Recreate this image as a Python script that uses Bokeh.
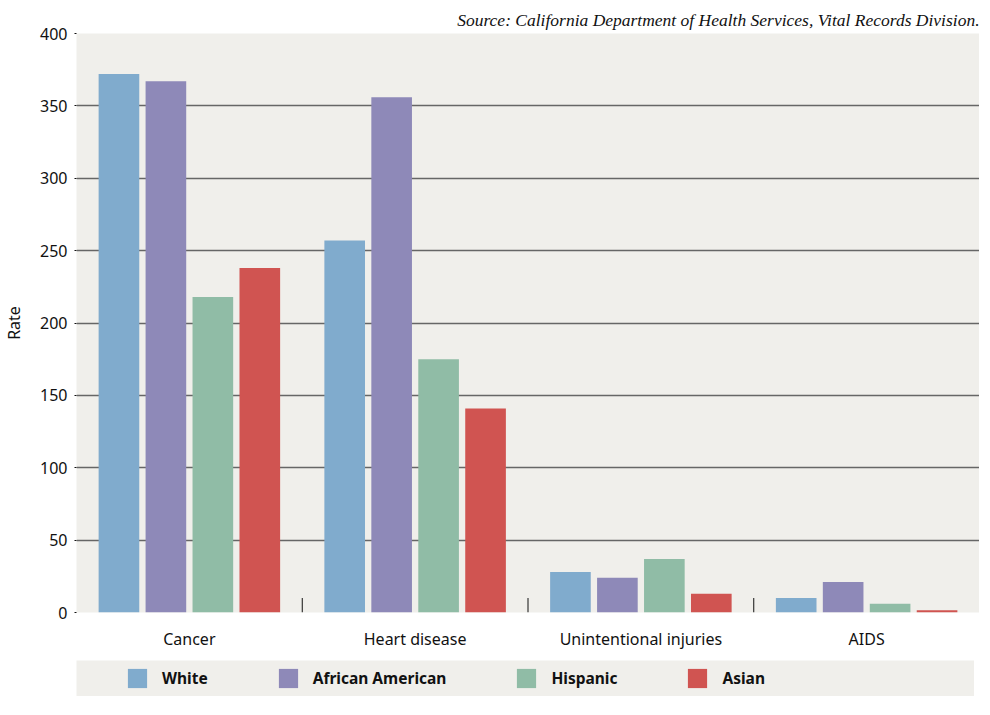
from bokeh.plotting import figure
from bokeh.models import FactorRange, Range1d, FixedTicker, Legend, LegendItem, ColumnDataSource, Title
from bokeh.transform import dodge
from bokeh.layouts import column
from bokeh.embed import file_html
from bokeh.resources import INLINE

causes = ["Cancer", "Heart disease", "Unintentional injuries", "AIDS"]
groups = ["White", "African American", "Hispanic", "Asian"]
white = [372, 257, 28, 10]
african_american = [367, 356, 24, 21]
hispanic = [218, 175, 37, 6]
asian = [238, 141, 13, 1.5]
y_ticks = [0, 50, 100, 150, 200, 250, 300, 350, 400]
grid_ticks = [50, 100, 150, 200, 250, 300, 350]
source_note = "Source: California Department of Health Services, Vital Records Division."
y_label = "Rate"

colors = ["#80abcd", "#8e89b8", "#90bca6", "#d05451"]
offsets = [-0.312, -0.104, 0.104, 0.312]
keys = ["white", "aa", "hisp", "asian"]
BG = "#f0efeb"
TXT = "#111111"
FONT = "Noto Sans"

src = ColumnDataSource(dict(cause=causes, white=white, aa=african_american,
                            hisp=hispanic, asian=asian))
sep_src = ColumnDataSource(dict(cause=causes[:-1]))

p = figure(frame_width=903, frame_height=579, x_range=FactorRange(*causes, range_padding=0),
           y_range=Range1d(0, 400), output_backend="svg", toolbar_location=None,
           min_border_left=71, min_border_right=0, min_border_top=33, min_border_bottom=45)
p.title = Title(text=source_note, align="right", text_font="Liberation Serif",
                text_font_style="italic", text_font_size="17.5px", text_color=TXT,
                offset=0, standoff=8)
p.background_fill_color = BG
p.border_fill_color = "white"
p.outline_line_color = None

for k, c, o in zip(keys, colors, offsets):
    p.vbar(x=dodge("cause", o, range=p.x_range), top=k, width=0.18, source=src,
           fill_color=c, line_color=None)

p.segment(x0=dodge("cause", 0.5, range=p.x_range), x1=dodge("cause", 0.5, range=p.x_range),
          y0=0, y1=10, source=sep_src, line_color=TXT, line_width=1)

p.xgrid.grid_line_color = None
p.ygrid.ticker = FixedTicker(ticks=grid_ticks)
p.ygrid.grid_line_color = "#666666"
p.ygrid.grid_line_width = 1.5

p.yaxis.ticker = FixedTicker(ticks=y_ticks)
p.yaxis.axis_line_color = None
p.yaxis.major_tick_line_color = TXT
p.yaxis.major_tick_out = 2
p.yaxis.major_tick_in = 0
p.yaxis.minor_tick_line_color = None
p.yaxis.major_label_standoff = 7
p.yaxis.major_label_text_font = FONT
p.yaxis.major_label_text_font_size = "16px"
p.yaxis.major_label_text_color = TXT
p.yaxis.axis_label = y_label
p.yaxis.axis_label_text_font = FONT
p.yaxis.axis_label_text_font_size = "16px"
p.yaxis.axis_label_text_font_style = "normal"
p.yaxis.axis_label_text_color = TXT
p.yaxis.axis_label_standoff = 12

p.xaxis.axis_line_color = None
p.xaxis.major_tick_line_color = None
p.xaxis.major_label_standoff = 9
p.xaxis.major_label_text_font = FONT
p.xaxis.major_label_text_font_size = "16px"
p.xaxis.major_label_text_color = TXT

# legend strip
q = figure(width=974, height=39, x_range=FactorRange(*causes, range_padding=0),
           y_range=Range1d(1000, 1001), output_backend="svg", toolbar_location=None,
           min_border_left=71, min_border_right=0, min_border_top=3, min_border_bottom=0,
           x_axis_location=None, y_axis_location=None)
q.background_fill_color = BG
q.border_fill_color = "white"
q.outline_line_color = None
q.grid.grid_line_color = None
items = []
for g, k, c, o in zip(groups, keys, colors, offsets):
    r = q.vbar(x=dodge("cause", o, range=q.x_range), top=k, width=0.18, source=src,
               fill_color=c, line_color=None)
    items.append(LegendItem(label=g, renderers=[r]))
leg = Legend(items=items, orientation="horizontal", location=(49, 6),
             glyph_width=24, glyph_height=24, label_standoff=13, spacing=68,
             padding=0, margin=0, background_fill_alpha=0, border_line_color=None,
             label_text_font=FONT, label_text_font_size="15.5px", label_text_font_style="bold",
             label_text_color=TXT, label_height=24)
q.add_layout(leg, "center")

layout = column(p, q, spacing=0)
open("out.html", "w").write(file_html(layout, INLINE))
